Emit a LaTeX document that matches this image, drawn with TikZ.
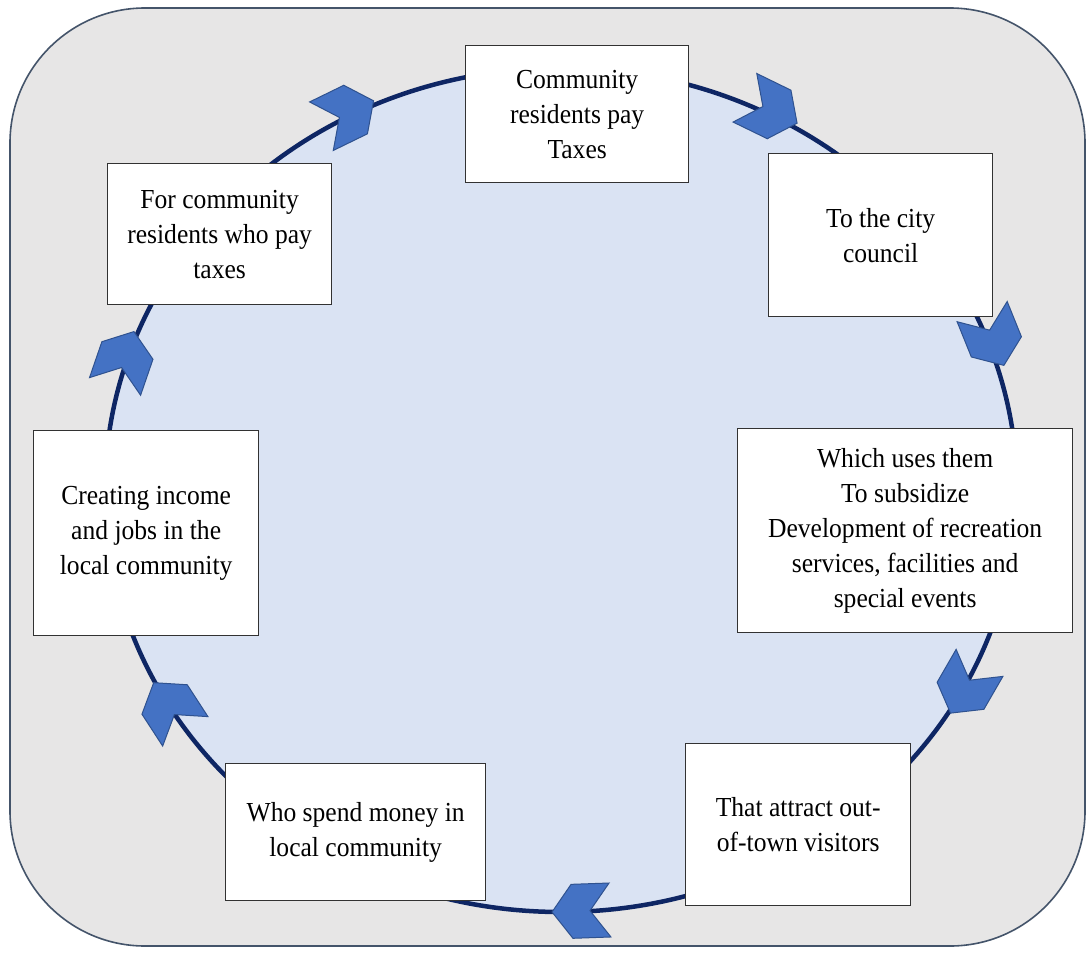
\documentclass[tikz,border=0pt]{standalone}
\usepackage{fontspec}
\setmainfont{Liberation Serif}[FakeStretch=0.93]
\definecolor{bggray}{RGB}{231,230,230}
\definecolor{bgedge}{RGB}{68,84,106}
\definecolor{ringfill}{RGB}{218,227,243}
\definecolor{ringline}{RGB}{14,38,100}
\definecolor{chevfill}{RGB}{68,114,196}
\definecolor{chevedge}{RGB}{47,82,143}
\definecolor{boxedge}{RGB}{50,50,50}
\begin{document}
\begin{tikzpicture}[x=1pt,y=-1pt,
  box/.style={draw=boxedge,line width=1.3pt,fill=white,align=center,inner sep=2pt,anchor=north west,
    font=\fontsize{27.5}{35}\selectfont},
  chevshape/.style={fill=chevfill,draw=chevedge,line width=1pt,line join=miter},
  chevron/.pic={\filldraw[chevshape] (29,0) -- (9,27) -- (-29,27) -- (-9,0) -- (-29,-27) -- (9,-27) -- cycle;}]
\useasboundingbox (0,0) rectangle (1091,952);
\fill[white] (0,0) rectangle (1091,952);
\draw[fill=bggray,draw=bgedge,line width=1.6pt,rounded corners=135pt] (10,8) rectangle (1085,946);
\draw[fill=ringfill,draw=ringline,line width=4.5pt] (561,490) ellipse [x radius=456pt, y radius=422pt];
% chevrons
\pic[rotate=26] at (347.5,113.5) {chevron};
\pic[rotate=-26] at (771,110.5) {chevron};
\pic[rotate=-68] at (993,338.5) {chevron};
\pic[rotate=-120] at (965,688) {chevron};
\pic[rotate=182] at (581,911) {chevron};
\pic[rotate=123] at (169.5,707) {chevron};
\pic[rotate=71] at (124.5,359) {chevron};
% boxes
\node[box,minimum width=223pt,minimum height=137pt] (n1) at (465,45) {Community\\residents pay\\Taxes};
\node[box,minimum width=224pt,minimum height=163pt] (n2) at (768,153) {To the city\\council};
\node[box,minimum width=335pt,minimum height=204pt] (n3) at (737,428) {Which uses them\\To subsidize\\Development of recreation\\services, facilities and\\special events};
\node[box,minimum width=225pt,minimum height=162pt] (n4) at (685,743) {That attract out-\\of-town visitors};
\node[box,minimum width=260pt,minimum height=137pt] (n5) at (225,763) {Who spend money in\\local community};
\node[box,minimum width=225pt,minimum height=205pt] (n6) at (33,430) {Creating income\\and jobs in the\\local community};
\node[box,minimum width=224pt,minimum height=141pt] (n7) at (107,163) {For community\\residents who pay\\taxes};
\end{tikzpicture}
\end{document}
